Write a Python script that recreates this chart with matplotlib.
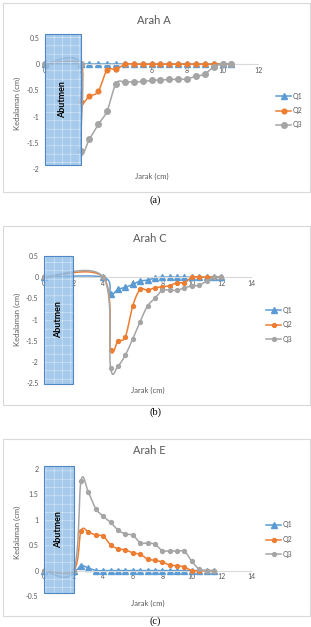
import numpy as np
import matplotlib
matplotlib.use("Agg")
import matplotlib.pyplot as plt
from matplotlib.patches import Rectangle
from matplotlib.lines import Line2D

matplotlib.rcParams['font.family'] = ['Lato', 'DejaVu Sans']
matplotlib.rcParams['hatch.linewidth'] = 0.4

# ---- data ----
jarak_A = [0, 2, 2, 2.5, 3, 3.5, 4, 4.5, 5, 5.5, 6, 6.5, 7, 7.5, 8, 8.5, 9, 9.5, 10, 10.5]
q1_A = [0, 0, 0, 0, 0, 0, 0, 0, 0, 0, 0, 0, 0, 0, 0, 0, 0, 0, 0, 0]
q2_A = [0, 0, -0.73, -0.61, -0.52, -0.11, -0.10, 0, 0, 0, 0, 0, 0, 0, 0, 0, 0, 0, 0, 0]
q3_A = [0, 0, -1.66, -1.43, -1.15, -0.89, -0.37, -0.34, -0.34, -0.33, -0.31, -0.30,
        -0.29, -0.29, -0.28, -0.23, -0.19, -0.05, 0, 0]

jarak_C = [0, 4, 4.5, 5, 5.5, 6, 6.5, 7, 7.5, 8, 8.5, 9, 9.5, 10, 10.5, 11, 11.5, 12]
q1_C = [0, 0, -0.40, -0.29, -0.24, -0.17, -0.09, -0.07, -0.02, 0, 0, 0, 0, 0, 0, 0, 0, 0]
q2_C = [0, 0, -1.71, -1.51, -1.41, -0.68, -0.29, -0.31, -0.25, -0.23, -0.20, -0.13,
        -0.13, 0, 0, 0, 0, 0]
q3_C = [0, 0, -2.14, -2.10, -1.84, -1.46, -1.05, -0.68, -0.50, -0.31, -0.31, -0.31,
        -0.25, -0.21, -0.19, -0.09, 0, 0]

jarak_E = [0, 2, 2.5, 3, 3.5, 4, 4.5, 5, 5.5, 6, 6.5, 7, 7.5, 8, 8.5, 9, 9.5, 10, 10.5, 11, 11.5]
q1_E = [0, 0, 0.10, 0.05, 0, 0, 0, 0, 0, 0, 0, 0, 0, 0, 0, 0, 0, 0, 0, 0, 0]
q2_E = [0, 0, 0.78, 0.76, 0.70, 0.68, 0.51, 0.43, 0.41, 0.35, 0.32, 0.23, 0.20, 0.17,
        0.11, 0.10, 0.07, 0, 0, 0, 0]
q3_E = [0, 0, 1.76, 1.54, 1.22, 1.07, 0.95, 0.80, 0.72, 0.70, 0.55, 0.54, 0.52, 0.39,
        0.39, 0.38, 0.38, 0.18, 0.03, 0, 0]

series_names = ["Q1", "Q2", "Q3"]
colors = ["#5B9BD5", "#ED7D31", "#A5A5A5"]
TXT = "#595959"

W, H = 311, 627
fig = plt.figure(figsize=(W / 100, H / 100), dpi=100)
fig.patch.set_facecolor("white")


def fx(px):
    return px / W


def fy(py):
    return 1 - py / H


def smooth(x, y, n=24):
    # excel-like smoothed line (bezier through the points)
    p = np.column_stack([x, y]).astype(float)
    ext = np.vstack([p[0], p, p[-1]])
    t = np.linspace(0, 1, n)[:, None]
    segs = []
    for i in range(len(p) - 1):
        p0, p1, p2, p3 = ext[i], ext[i + 1], ext[i + 2], ext[i + 3]
        c1 = p1 + (p2 - p0) / 6
        c2 = p2 - (p3 - p1) / 6
        segs.append((1 - t) ** 3 * p1 + 3 * (1 - t) ** 2 * t * c1
                    + 3 * (1 - t) * t ** 2 * c2 + t ** 3 * p2)
    s = np.vstack(segs)
    return s[:, 0], s[:, 1]


panels = [
    dict(title="Arah A", x=jarak_A, ys=[q1_A, q2_A, q3_A], frame=(3, 3, 310, 192),
         ax=(45, 38, 258, 169), xlim=(0, 12), ylim=(-2, 0.5), yticks=[0.5, 0, -0.5, -1, -1.5, -2],
         box=(0, 2, -1.93, 0.57), cap="(a)", cap_y=200, leg=(276, 96),
         ms=[4.2, 3.4, 4.0], mk=["^", "o", "o"]),
    dict(title="Arah C", x=jarak_C, ys=[q1_C, q2_C, q3_C], frame=(3, 226, 310, 405),
         ax=(44, 256, 251, 383), xlim=(0, 14), ylim=(-2.5, 0.5), yticks=[0.5, 0, -0.5, -1, -1.5, -2, -2.5],
         box=(0, 1.95, -2.52, 0.5), cap="(b)", cap_y=412, leg=(266, 310),
         ms=[3.8, 2.8, 2.8], mk=["^", "o", "o"]),
    dict(title="Arah E", x=jarak_E, ys=[q1_E, q2_E, q3_E], frame=(3, 439, 310, 616),
         ax=(44, 469, 251, 596), xlim=(0, 14), ylim=(-0.5, 2), yticks=[2, 1.5, 1, 0.5, 0, -0.5],
         box=(0, 2, -0.45, 2.05), cap="(c)", cap_y=621, leg=(266, 525),
         ms=[3.8, 2.8, 2.8], mk=["^", "o", "o"]),
]

for p in panels:
    x0, y0, x1, y1 = p["frame"]
    fig.patches.append(Rectangle((fx(x0), fy(y1)), fx(x1 - x0), (y1 - y0) / H,
                                 transform=fig.transFigure, fill=False,
                                 edgecolor="#d9d9d9", linewidth=0.8))
    l, t, r, b = p["ax"]
    ax = fig.add_axes([fx(l), fy(b), fx(r - l), (b - t) / H])
    ax.set_facecolor("none")
    ax.set_xlim(*p["xlim"])
    ax.set_ylim(*p["ylim"])
    ax.set_xticks(np.arange(p["xlim"][0], p["xlim"][1] + 1, 2))
    ax.set_yticks(p["yticks"])
    ax.set_yticklabels([f"{v:g}" for v in p["yticks"]])
    for s in ["top", "right", "left"]:
        ax.spines[s].set_visible(False)
    ax.spines["bottom"].set_position(("data", 0))
    ax.spines["bottom"].set_color("#d9d9d9")
    ax.spines["bottom"].set_linewidth(0.8)
    ax.tick_params(length=0, labelsize=5, colors=TXT)
    ax.tick_params(axis="x", pad=2)
    ax.tick_params(axis="y", pad=4)

    for i, ys in enumerate(p["ys"]):
        sx, sy = smooth(p["x"], ys)
        ax.plot(sx, sy, color=colors[i], lw=1.1, zorder=2 + i, clip_on=False)
        ax.plot(p["x"], ys, ls="none", marker=p["mk"][i], ms=p["ms"][i],
                color=colors[i], zorder=2 + i, clip_on=False)

    bx0, bx1, by0, by1 = p["box"]
    ax.add_patch(Rectangle((bx0, by0), bx1 - bx0, by1 - by0, facecolor="#8dbbe6",
                           edgecolor="#eaf3fc", hatch="++", linewidth=0, alpha=0.78,
                           zorder=6, clip_on=False))
    ax.add_patch(Rectangle((bx0, by0), bx1 - bx0, by1 - by0, fill=False,
                           edgecolor="#4f86c6", linewidth=0.8, zorder=7, clip_on=False))
    ax.text((bx0 + bx1) / 2, (by0 + by1) / 2, "Abutmen", rotation=90,
            ha="center", va="center", fontsize=6.5, fontweight="bold", color="black", zorder=8)

    cx = (l + r) / 2
    fig.text(fx(cx + 2), fy(t - 18), p["title"], ha="center", va="center", fontsize=8, color=TXT)
    fig.text(fx(cx), fy(b + 7), "Jarak (cm)", ha="center", va="center", fontsize=5.5, color=TXT)
    fig.text(fx(17), fy((t + b) / 2), "Kedalaman (cm)", ha="center", va="center",
             rotation=90, fontsize=5.5, color=TXT)
    fig.text(0.5, fy(p["cap_y"]), p["cap"], ha="center", va="center", fontsize=7.5,
             family="Liberation Serif", color="black")

    lx, ly = p["leg"]
    for i, name in enumerate(series_names):
        yy = ly + i * 14.5
        fig.add_artist(Line2D([fx(lx), fx(lx + 15)], [fy(yy), fy(yy)], color=colors[i], lw=1.1,
                              transform=fig.transFigure))
        fig.add_artist(Line2D([fx(lx + 7.5)], [fy(yy)], color=colors[i], marker=p["mk"][i],
                              ms=p["ms"][i], ls="none", transform=fig.transFigure))
        fig.text(fx(lx + 17), fy(yy), name, ha="left", va="center", fontsize=5, color=TXT)

fig.savefig("out.png", dpi=100)
